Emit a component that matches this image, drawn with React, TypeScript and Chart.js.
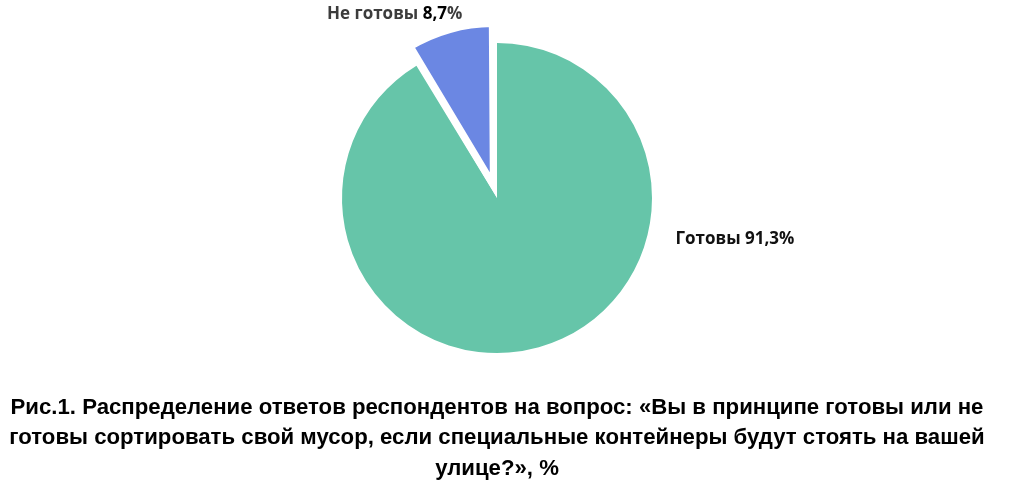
import { useEffect, useRef } from "react";
import { Chart, registerables } from "chart.js";

Chart.register(...registerables);

const categories = ["Готовы", "Не готовы"];
const values = [91.3, 8.7];
const colors = ["#66C5A9", "#6B87E3"];
const sliceOffsets = [0, 54];
const sliceBorders = [0, 7];
const titleLines = [
  "Рис.1. Распределение ответов респондентов на вопрос: «Вы в принципе готовы или не",
  "готовы сортировать свой мусор, если специальные контейнеры будут стоять на вашей",
  "улице?», %",
];

// label anchor positions relative to pie center, in units of radius
const labelAnchors = [
  { dx: 1.535, dy: 0.265, nameColor: "#111111", numColor: "#111111", pctColor: "#111111" },
  { dx: -0.66, dy: -1.185, nameColor: "#3c3c3c", numColor: "#000000", pctColor: "#3c3c3c" },
];

const fmt = (v: number) => v.toFixed(1).replace(".", ",");

const labelPlugin = {
  id: "sliceLabels",
  afterDatasetsDraw(chart: any) {
    const meta = chart.getDatasetMeta(0);
    const ctx = chart.ctx;
    const area = chart.chartArea;
    const cx = (area.left + area.right) / 2;
    const cy = (area.top + area.bottom) / 2;
    meta.data.forEach((arc: any, i: number) => {
      const { outerRadius } = arc.getProps(["outerRadius"], true);
      const a = labelAnchors[i];
      const x = cx + a.dx * outerRadius;
      const y = cy + a.dy * outerRadius;
      ctx.save();
      ctx.font = "bold 17px 'Open Sans', 'Liberation Sans', sans-serif";
      ctx.textBaseline = "middle";
      ctx.textAlign = "left";
      const parts = [
        { t: categories[i] + " ", c: a.nameColor },
        { t: fmt(values[i]), c: a.numColor },
        { t: "%", c: a.pctColor },
      ];
      const total = parts.reduce((s, p) => s + ctx.measureText(p.t).width, 0);
      let px = x - total / 2;
      parts.forEach((p) => {
        ctx.fillStyle = p.c;
        ctx.fillText(p.t, px, y);
        px += ctx.measureText(p.t).width;
      });
      ctx.restore();
    });
  },
};

export default function App() {
  const ref = useRef<HTMLCanvasElement | null>(null);
  useEffect(() => {
    if (!ref.current) return;
    const chart = new Chart(ref.current, {
      type: "pie",
      data: {
        labels: categories,
        datasets: [
          {
            data: values,
            backgroundColor: colors,
            borderWidth: sliceBorders,
            borderColor: "#ffffff",
            borderJoinStyle: "miter",
            offset: sliceOffsets,
          },
        ],
      },
      options: {
        animation: false,
        responsive: true,
        maintainAspectRatio: false,
        radius: 155,
        layout: { padding: { top: 4, right: 30, left: 0, bottom: 0 } },
        plugins: {
          legend: { display: false },
          tooltip: { enabled: false },
          title: {
            display: true,
            position: "bottom",
            text: titleLines,
            color: "#000000",
            font: {
              family: "'Liberation Sans', sans-serif",
              size: 22.2,
              weight: "bold",
              lineHeight: 1.38,
            },
            padding: { top: 0, bottom: 0 },
          },
        },
      } as any,
      plugins: [labelPlugin],
    });
    return () => chart.destroy();
  }, []);
  return (
    <div style={{ position: "fixed", left: 0, top: 0, width: 1024, height: 484, background: "#ffffff" }}>
      <canvas ref={ref} />
    </div>
  );
}
